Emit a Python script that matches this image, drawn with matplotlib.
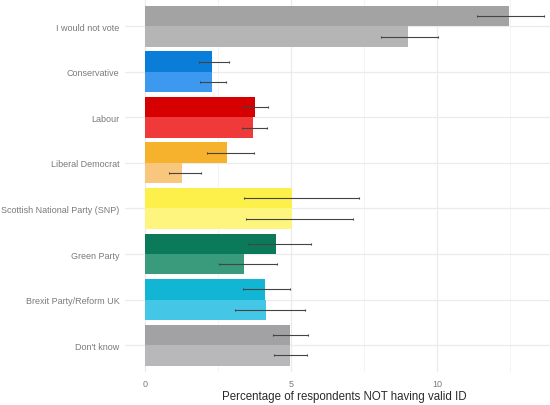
import matplotlib
matplotlib.use("Agg")
import matplotlib.pyplot as plt
import numpy as np

plt.rcParams['font.family'] = ['Liberation Sans', 'DejaVu Sans']

categories = ["I would not vote", "Conservative", "Labour", "Liberal Democrat",
              "Scottish National Party (SNP)", "Green Party",
              "Brexit Party/Reform UK", "Don't know"]

# first (upper, darker) series
val_a = [12.47, 2.30, 3.78, 2.82, 5.02, 4.49, 4.09, 4.97]
lo_a = [11.37, 1.86, 3.37, 2.11, 3.40, 3.54, 3.34, 4.39]
hi_a = [13.66, 2.87, 4.20, 3.74, 7.34, 5.68, 4.97, 5.59]

# second (lower, lighter) series
val_b = [9.00, 2.28, 3.70, 1.28, 5.02, 3.40, 4.13, 4.97]
lo_b = [8.08, 1.88, 3.31, 0.83, 3.45, 2.54, 3.08, 4.40]
hi_b = [10.03, 2.78, 4.17, 1.93, 7.13, 4.53, 5.48, 5.54]

colors_a = ["#a3a3a3", "#0a7dd8", "#d60000", "#f7b22d",
            "#fdf04a", "#0a7a5a", "#12b5d3", "#a2a2a5"]
colors_b = ["#b5b5b5", "#3d99ef", "#f03a3a", "#f9c67e",
            "#fdf57d", "#3a9a7c", "#44c7e6", "#b8b8bb"]

fig = plt.figure(figsize=(5.5, 4.06), dpi=100)
# panel runs a little past the right edge, as in the cropped original
ax = fig.add_axes([125 / 550, 1 - 373.4 / 406, 439 / 550, 373.4 / 406])

y = np.arange(len(categories)) + 1
h = 0.45
ya = y - h / 2
yb = y + h / 2

ax.barh(ya, val_a, height=h, color=colors_a, zorder=2)
ax.barh(yb, val_b, height=h, color=colors_b, zorder=2)

err_a = [np.array(val_a) - np.array(lo_a), np.array(hi_a) - np.array(val_a)]
err_b = [np.array(val_b) - np.array(lo_b), np.array(hi_b) - np.array(val_b)]
ax.errorbar(val_a, ya, xerr=err_a, fmt='none', ecolor='#444444',
            elinewidth=0.8, capsize=1.0, capthick=0.8, zorder=3)
ax.errorbar(val_b, yb, xerr=err_b, fmt='none', ecolor='#444444',
            elinewidth=0.8, capsize=1.0, capthick=0.8, zorder=3)

ax.set_xlim(-0.685, 14.34)
ax.set_ylim(8.6, 0.4)
ax.set_yticks(y)
ax.set_yticklabels(categories)
ax.set_xticks([0, 5, 10])
ax.set_xticks([2.5, 7.5, 12.5], minor=True)

ax.grid(True, which='major', color='#ebebeb', linewidth=0.9, zorder=0)
ax.grid(True, which='minor', axis='x', color='#f2f2f2', linewidth=0.6, zorder=0)
ax.set_axisbelow(True)

for s in ax.spines.values():
    s.set_visible(False)
ax.tick_params(axis='both', which='both', length=0, colors='#7a7a7a',
               labelsize=6.5)
ax.tick_params(axis='x', pad=5)
ax.tick_params(axis='y', pad=4)

ax.set_xlabel("Percentage of respondents NOT having valid ID", fontsize=8.3,
              color='#2a2a2a', labelpad=1)

fig.savefig("out.png", dpi=100)
